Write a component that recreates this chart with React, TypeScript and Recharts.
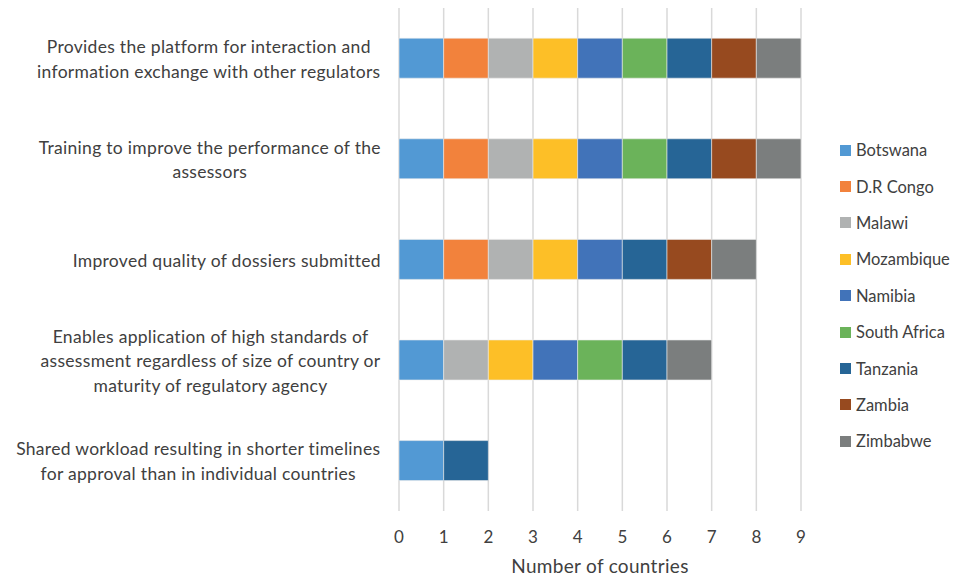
import { Bar, BarChart, CartesianGrid, XAxis, YAxis } from "recharts";

const FONT = "Lato, sans-serif";
const TEXT = "#404040";

const benefits = [
  "Provides the platform for interaction and\ninformation exchange with other regulators",
  "Training to improve the performance of the\nassessors",
  "Improved quality of dossiers submitted",
  "Enables application of high standards of\nassessment regardless of size of country or\nmaturity of regulatory agency",
  "Shared workload resulting in shorter timelines\nfor approval than in individual countries",
];

// 1 = country reported the benefit, 0 = not reported (order follows benefits)
const botswana = [1, 1, 1, 1, 1];
const drCongo = [1, 1, 1, 0, 0];
const malawi = [1, 1, 1, 1, 0];
const mozambique = [1, 1, 1, 1, 0];
const namibia = [1, 1, 1, 1, 0];
const southAfrica = [1, 1, 0, 1, 0];
const tanzania = [1, 1, 1, 1, 1];
const zambia = [1, 1, 1, 0, 0];
const zimbabwe = [1, 1, 1, 1, 0];

const xTicks = [0, 1, 2, 3, 4, 5, 6, 7, 8, 9];

const countries = [
  { key: "Botswana", values: botswana, color: "#5299d4" },
  { key: "D.R Congo", values: drCongo, color: "#f2823c" },
  { key: "Malawi", values: malawi, color: "#b0b2b2" },
  { key: "Mozambique", values: mozambique, color: "#fdbf27" },
  { key: "Namibia", values: namibia, color: "#4173b9" },
  { key: "South Africa", values: southAfrica, color: "#6bb35a" },
  { key: "Tanzania", values: tanzania, color: "#266596" },
  { key: "Zambia", values: zambia, color: "#974a1f" },
  { key: "Zimbabwe", values: zimbabwe, color: "#7b7e7e" },
];

const data = benefits.map((label, i) => {
  const row: Record<string, string | number> = { label };
  countries.forEach((c) => {
    row[c.key] = c.values[i];
  });
  return row;
});

const LABEL_SIZE = 17.5;
const LABEL_SPACING = 0.3;

let measureCtx: CanvasRenderingContext2D | null = null;
function textWidth(s: string, size: number) {
  if (!measureCtx) measureCtx = document.createElement("canvas").getContext("2d");
  if (!measureCtx) return s.length * size * 0.5;
  measureCtx.font = `${size}px Lato`;
  return measureCtx.measureText(s).width + s.length * LABEL_SPACING;
}

// multi-line category label: lines centred inside a block whose right edge is fixed
function BenefitTick({ x, y, payload }: any) {
  const lineH = 24.5;
  const lines = String(payload.value).split("\n");
  const widest = Math.max(...lines.map((l) => textWidth(l, LABEL_SIZE)));
  const cx = x - widest / 2;
  const top = y - ((lines.length - 1) * lineH) / 2;
  return (
    <text
      x={cx}
      y={top}
      textAnchor="middle"
      fill={TEXT}
      fontSize={LABEL_SIZE}
      fontFamily={FONT}
      letterSpacing={LABEL_SPACING}
      dominantBaseline="central"
    >
      {lines.map((l, i) => (
        <tspan key={i} x={cx} y={top + i * lineH}>
          {l}
        </tspan>
      ))}
    </text>
  );
}

function CountryLegend() {
  return (
    <div style={{ position: "absolute", left: 840, top: 132, fontFamily: FONT, fontSize: 16.5, color: TEXT }}>
      {countries.map((c) => (
        <div key={c.key} style={{ display: "flex", alignItems: "center", height: 36.4 }}>
          <span style={{ width: 11, height: 11, background: c.color, marginRight: 5 }} />
          <span>{c.key}</span>
        </div>
      ))}
    </div>
  );
}

export default function App() {
  return (
    <div style={{ position: "relative", width: 959, height: 579, background: "#fff" }}>
      <style>{"body{margin:0}"}</style>
      <BarChart
        width={959}
        height={579}
        data={data}
        layout="vertical"
        margin={{ top: 8, right: 158, bottom: 0, left: 0 }}
        barCategoryGap="30%"
      >
        <CartesianGrid horizontal={false} stroke="#d9d9d9" strokeWidth={1.5} />
        <XAxis
          type="number"
          domain={[0, 9]}
          ticks={xTicks}
          axisLine={false}
          tickLine={false}
          height={68}
          tickMargin={14}
          tick={{ fill: TEXT, fontSize: 17, fontFamily: FONT }}
          label={{
            value: "Number of countries",
            position: "insideBottom",
            offset: 6,
            fill: TEXT,
            fontSize: 19,
            fontFamily: FONT,
            letterSpacing: 0.3,
          }}
        />
        <YAxis
          type="category"
          dataKey="label"
          width={399}
          axisLine={false}
          tickLine={false}
          tickMargin={12}
          tick={<BenefitTick />}
          interval={0}
        />
        {countries.map((c) => (
          <Bar key={c.key} dataKey={c.key} stackId="all" fill={c.color} stroke="#ececec" strokeWidth={0.6} isAnimationActive={false} />
        ))}
      </BarChart>
      <CountryLegend />
    </div>
  );
}
